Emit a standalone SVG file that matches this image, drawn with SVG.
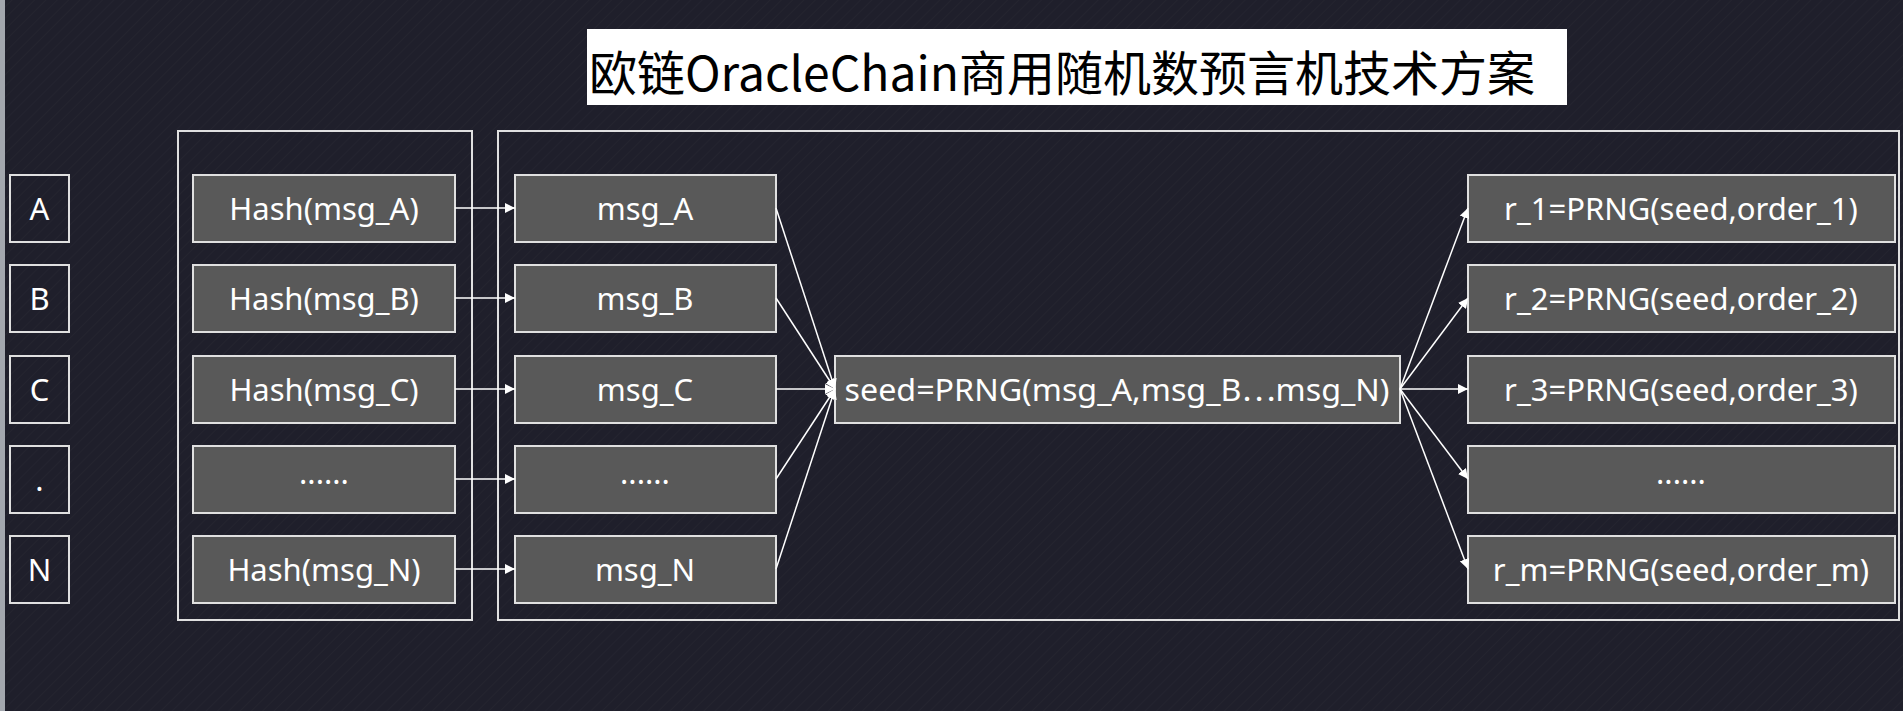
<svg xmlns="http://www.w3.org/2000/svg" width="1903" height="711" viewBox="0 0 1903 711">
<defs>
<marker id="ah" viewBox="0 0 10 10" refX="10" refY="5" markerWidth="10" markerHeight="10" markerUnits="userSpaceOnUse" orient="auto"><path d="M0,0 L10,5 L0,10 z" fill="#fff"/></marker>
<pattern id="st" width="8" height="8" patternUnits="userSpaceOnUse" patternTransform="rotate(45)"><rect width="8" height="8" fill="#1f1f2b"/><rect width="1" height="8" fill="#24242f"/></pattern>
</defs>
<style>
.n{fill:#595959;stroke:#e0e0e0;stroke-width:2}
.o{fill:none;stroke:#e0e0e0;stroke-width:2}
.t{fill:#fff;font-family:"Noto Sans","Noto Sans CJK SC",sans-serif;font-size:31px;text-anchor:middle;dominant-baseline:central}
.c{stroke:#fff;stroke-width:1.5;fill:none;marker-end:url(#ah)}
</style>
<rect width="1903" height="711" fill="url(#st)"/>
<rect width="5" height="711" fill="#a3a7ae"/>
<g id="title"><rect x="587" y="29" width="980" height="76" fill="#fff"/>
<text x="589" y="70" font-family="Noto Sans CJK SC,sans-serif" font-size="48" fill="#000" dominant-baseline="central">欧链OracleChain商用随机数预言机技术方案</text></g>
<g id="frames"><rect class="o" x="178" y="131" width="294" height="489"/><rect class="o" x="498" y="131" width="1401" height="489"/></g>
<g id="A"><rect class="o" x="10" y="175" width="59" height="67"/><text class="t" x="39.5" y="208">A</text></g>
<g id="B"><rect class="o" x="10" y="265" width="59" height="67"/><text class="t" x="39.5" y="298">B</text></g>
<g id="C"><rect class="o" x="10" y="356" width="59" height="67"/><text class="t" x="39.5" y="389">C</text></g>
<g id="D"><rect class="o" x="10" y="446" width="59" height="67"/><text class="t" x="39.5" y="479">.</text></g>
<g id="N"><rect class="o" x="10" y="536" width="59" height="67"/><text class="t" x="39.5" y="569">N</text></g>
<g id="hA"><rect class="n" x="193" y="175" width="262" height="67"/><text class="t" x="324" y="208">Hash(msg_A)</text></g>
<g id="hB"><rect class="n" x="193" y="265" width="262" height="67"/><text class="t" x="324" y="298">Hash(msg_B)</text></g>
<g id="hC"><rect class="n" x="193" y="356" width="262" height="67"/><text class="t" x="324" y="389">Hash(msg_C)</text></g>
<g id="hD"><rect class="n" x="193" y="446" width="262" height="67"/><text class="t" x="324" y="472">......</text></g>
<g id="hN"><rect class="n" x="193" y="536" width="262" height="67"/><text class="t" x="324" y="569">Hash(msg_N)</text></g>
<g id="mA"><rect class="n" x="515" y="175" width="261" height="67"/><text class="t" x="645" y="208">msg_A</text></g>
<g id="mB"><rect class="n" x="515" y="265" width="261" height="67"/><text class="t" x="645" y="298">msg_B</text></g>
<g id="mC"><rect class="n" x="515" y="356" width="261" height="67"/><text class="t" x="645" y="389">msg_C</text></g>
<g id="mD"><rect class="n" x="515" y="446" width="261" height="67"/><text class="t" x="645" y="472">......</text></g>
<g id="mN"><rect class="n" x="515" y="536" width="261" height="67"/><text class="t" x="645" y="569">msg_N</text></g>
<g id="seed"><rect class="n" x="835" y="356" width="565" height="67"/><text class="t" x="1117" y="389" textLength="545" lengthAdjust="spacingAndGlyphs">seed=PRNG(msg_A,msg_B⋯msg_N)</text></g>
<g id="r1"><rect class="n" x="1468" y="175" width="427" height="67"/><text class="t" x="1681" y="208">r_1=PRNG(seed,order_1)</text></g>
<g id="r2"><rect class="n" x="1468" y="265" width="427" height="67"/><text class="t" x="1681" y="298">r_2=PRNG(seed,order_2)</text></g>
<g id="r3"><rect class="n" x="1468" y="356" width="427" height="67"/><text class="t" x="1681" y="389">r_3=PRNG(seed,order_3)</text></g>
<g id="rD"><rect class="n" x="1468" y="446" width="427" height="67"/><text class="t" x="1681" y="472">......</text></g>
<g id="rm"><rect class="n" x="1468" y="536" width="427" height="67"/><text class="t" x="1681" y="569">r_m=PRNG(seed,order_m)</text></g>
<g id="connectors">
<line class="c" x1="455" y1="208" x2="515" y2="208"/>
<line class="c" x1="455" y1="298" x2="515" y2="298"/>
<line class="c" x1="455" y1="389" x2="515" y2="389"/>
<line class="c" x1="455" y1="479" x2="515" y2="479"/>
<line class="c" x1="455" y1="569" x2="515" y2="569"/>
<line class="c" x1="776" y1="208" x2="835" y2="389"/>
<line class="c" x1="776" y1="298" x2="835" y2="389"/>
<line class="c" x1="776" y1="389" x2="835" y2="389"/>
<line class="c" x1="776" y1="479" x2="835" y2="389"/>
<line class="c" x1="776" y1="569" x2="835" y2="389"/>
<line class="c" x1="1400" y1="389" x2="1468" y2="208"/>
<line class="c" x1="1400" y1="389" x2="1468" y2="298"/>
<line class="c" x1="1400" y1="389" x2="1468" y2="389"/>
<line class="c" x1="1400" y1="389" x2="1468" y2="479"/>
<line class="c" x1="1400" y1="389" x2="1468" y2="569"/>
</g>
</svg>
